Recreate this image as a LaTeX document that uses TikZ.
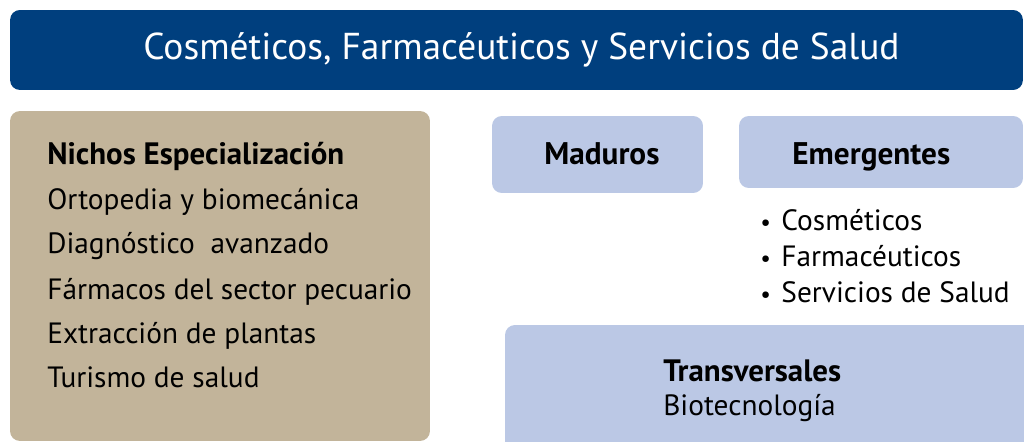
\documentclass[tikz,border=0pt]{standalone}
\usepackage{fontspec}
\setmainfont{PT Sans}
\definecolor{titleblue}{HTML}{003F7E}
\definecolor{nichetan}{HTML}{C2B49A}
\definecolor{groupblue}{HTML}{BBC8E5}
\begin{document}
\begin{tikzpicture}[x=0.02cm,y=-0.02cm,
  box/.style={rectangle,rounded corners=5.6pt,inner sep=0pt},
  group/.style={box,fill=groupblue,text height=14pt,text depth=3pt,
    font=\fontsize{17.8}{21}\selectfont\bfseries},
  txt/.style={anchor=base west,inner sep=0pt,font=\fontsize{16.7}{20}\selectfont},
  head/.style={txt,font=\fontsize{17.6}{21}\selectfont\bfseries}]
  \useasboundingbox (0,0) rectangle (1024,442);
  \clip (0,0) rectangle (1024,442);
  % title bar
  \node[box,fill=titleblue,minimum width=20.26cm,minimum height=1.6cm,
    text=white,font=\fontsize{21.3}{26}\selectfont] (title) at (516.5,50)
    {\hspace*{5.7pt}Cosméticos, Farmacéuticos y Servicios de Salud};
  % niches
  \node[box,fill=nichetan,minimum width=8.4cm,minimum height=6.6cm] (niches) at (220,276) {};
  \node[head] (nh) at (47,165) {Nichos Especialización};
  \node[txt] (n1) at (47,210) {Ortopedia y biomecánica};
  \node[txt] (n2) at (47,254) {Diagnóstico\ \ avanzado};
  \node[txt] (n3) at (47,299) {Fármacos del sector pecuario};
  \node[txt] (n4) at (47,343) {Extracción de plantas};
  \node[txt] (n5) at (47,387) {Turismo de salud};
  % groups
  \node[group,minimum width=4.22cm,minimum height=1.54cm] (mature) at (597.5,154.5) {\hspace*{5pt}Maduros};
  \node[group,minimum width=5.68cm,minimum height=1.44cm] (emerging) at (881,152) {\hspace*{-11pt}\raisebox{-1.4pt}{Emergentes}};
  \node[txt] (e1) at (760,231) {\makebox[12pt][l]{\scalebox{0.8}{•}}Cosméticos};
  \node[txt] (e2) at (760,266) {\makebox[12pt][l]{\scalebox{0.8}{•}}Farmacéuticos};
  \node[txt] (e3) at (760,302) {\makebox[12pt][l]{\scalebox{0.8}{•}}Servicios de Salud};
  \node[box,fill=groupblue,minimum width=11cm,minimum height=3cm] (cross) at (780,400) {};
  \node[head] (ch) at (663,381) {Transversales};
  \node[txt] (c1) at (663,415) {Biotecnología};
\end{tikzpicture}
\end{document}
